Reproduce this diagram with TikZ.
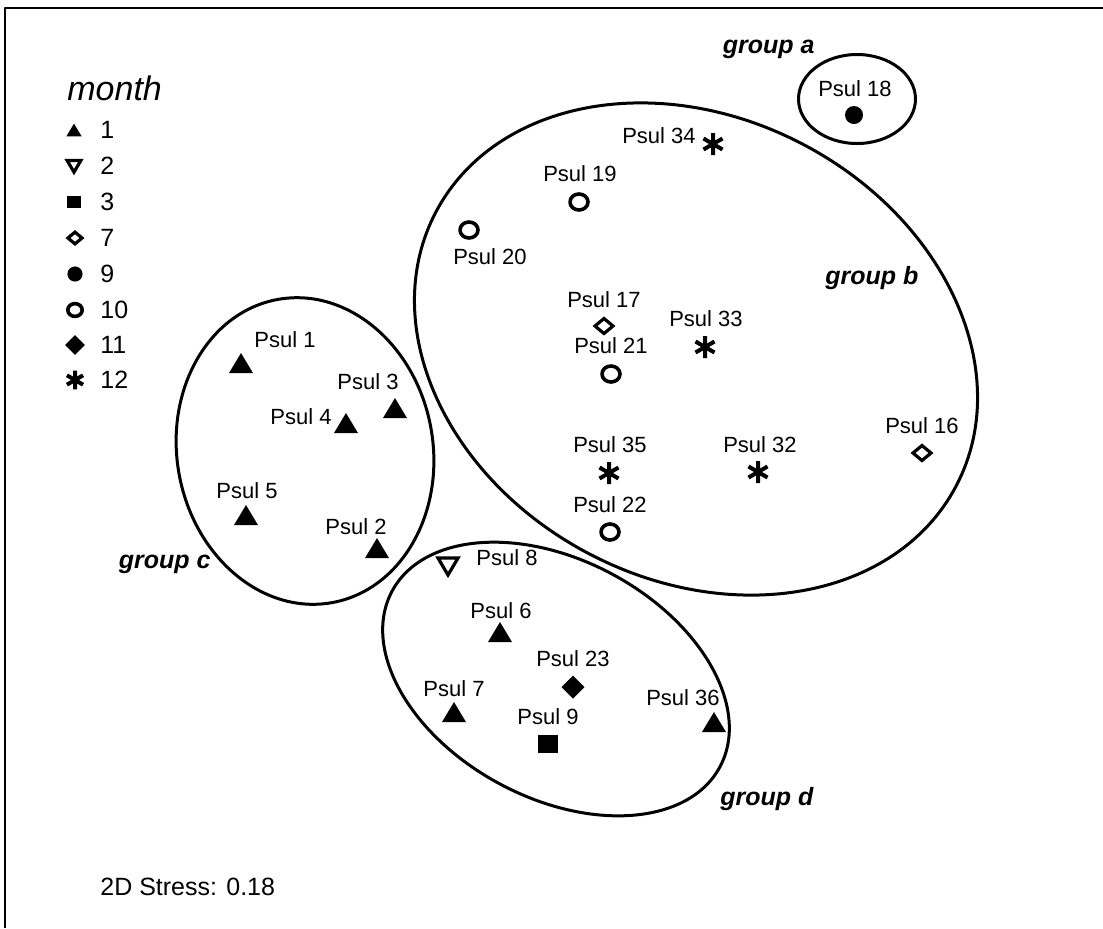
\documentclass[tikz,border=0pt]{standalone}
\usepackage{fontspec}
\setmainfont{Liberation Sans}
\begin{document}
\begin{tikzpicture}[x=0.5pt,y=-0.5pt,line join=round]

\def\gw{1.5pt} %group outline width
\def\ow{1.6pt} %open mark width

\tikzset{
  lab/.style={anchor=base,inner sep=0pt,font=\fontsize{11}{13}\selectfont},
  grp/.style={inner sep=0pt,font=\fontsize{12.5}{15}\selectfont\bfseries\itshape},
  num/.style={anchor=base west,inner sep=0pt,font=\fontsize{12.5}{15}\selectfont},
  hull/.style={line width=\gw},
  tri/.pic={\fill (-12,10) -- (12,10) -- (0,-10) -- cycle;},
  itri/.pic={\draw[line width=\ow,line join=miter] (-10,-8) -- (10,-8) -- (0,9) -- cycle;},
  sqr/.pic={\fill (-10,-9) rectangle (10,9);},
  odia/.pic={\draw[line width=\ow,line join=miter] (-9,0) -- (0,-7.5) -- (9,0) -- (0,7.5) -- cycle;},
  dot/.pic={\fill (0,0) circle (9);},
  ring/.pic={\draw[line width=1.8pt] (0,0) ellipse (9 and 8);},
  fdia/.pic={\fill (-11.5,0) -- (0,-11.5) -- (11.5,0) -- (0,11.5) -- cycle;},
  aster/.pic={\draw[line width=2pt] (0,-11) -- (0,11) (-9.5,-5.5) -- (9.5,5.5) (-9.5,5.5) -- (9.5,-5.5);}
}

\useasboundingbox (0,0) rectangle (1103,928);

%frame
\draw[line width=1pt] (5,928) -- (5,8) -- (1103,8);

%legend
\node[anchor=base west,inner sep=0pt,font=\fontsize{17}{20}\selectfont\itshape] (month) at (67,100) {month};
\path (74,130) pic[scale=.64]{tri};   \node[num] (m1) at (100,138) {1};
\path (74,166) pic[scale=.68]{itri};  \node[num] (m2) at (100,174) {2};
\path (74,202) pic[scale=.66]{sqr};   \node[num] (m3) at (100,210) {3};
\path (75,238) pic[scale=.78]{odia};  \node[num] (m7) at (100,246) {7};
\path (75,274) pic[scale=.84]{dot};   \node[num] (m9) at (100,282) {9};
\path (75,310) pic[scale=.8]{ring};   \node[num] (m10) at (100,318) {10};
\path (75,345) pic[scale=.85]{fdia};  \node[num] (m11) at (100,353) {11};
\path (75,380) pic[scale=.85]{aster}; \node[num] (m12) at (100,388) {12};

%group a
\draw[hull] (857,99) ellipse (58.5 and 44.5);
\node[grp,anchor=base east] (ga) at (815,53) {group a};
\path (854,115) pic{dot}; \node[lab] (p18) at (855,96) {Psul 18};

%group b
\draw[hull,rotate around={-27.8:(696,349)}] (696,349) ellipse (294 and 231);
\node[grp,anchor=base west] (gb) at (825,284) {group b};
\path (713,144) pic{aster}; \node[lab] (p34) at (659,143) {Psul 34};
\path (579,202) pic{ring};  \node[lab] (p19) at (580,181) {Psul 19};
\path (469,230) pic{ring};  \node[lab] (p20) at (490,264) {Psul 20};
\path (604,326) pic{odia};  \node[lab] (p17) at (604,307) {Psul 17};
\path (611,374) pic{ring};  \node[lab] (p21) at (611,353) {Psul 21};
\path (705,347) pic{aster}; \node[lab] (p33) at (706,326) {Psul 33};
\path (609,473) pic{aster}; \node[lab] (p35) at (610,452) {Psul 35};
\path (758,472) pic{aster}; \node[lab] (p32) at (760,452) {Psul 32};
\path (922,453) pic{odia};  \node[lab] (p16) at (922,433) {Psul 16};
\path (610,532) pic{ring};  \node[lab] (p22) at (610,512) {Psul 22};

%group c
\draw[hull,rotate around={10:(305,451)}] (305,451) ellipse (128 and 154);
\node[grp,anchor=base east] (gc) at (211,568) {group c};
\path (241,363) pic{tri}; \node[lab] (p1) at (285,347) {Psul 1};
\path (395,408) pic{tri}; \node[lab] (p3) at (368,389) {Psul 3};
\path (346,423) pic{tri}; \node[lab] (p4) at (301,424) {Psul 4};
\path (246,515) pic{tri}; \node[lab] (p5) at (247,498) {Psul 5};
\path (377,548) pic{tri}; \node[lab] (p2) at (356,534) {Psul 2};

%group d
\draw[hull,rotate around={-28.2:(556,679)}] (556,679) ellipse (186 and 119);
\node[grp,anchor=base west] (gd) at (720,805) {group d};
\path (448,566) pic{itri}; \node[lab] (p8) at (507,565) {Psul 8};
\path (500,632) pic{tri};  \node[lab] (p6) at (501,618) {Psul 6};
\path (573,687) pic{fdia}; \node[lab] (p23) at (573,666) {Psul 23};
\path (454,712) pic{tri};  \node[lab] (p7) at (454,696) {Psul 7};
\path (548,744) pic{sqr};  \node[lab] (p9) at (548,724) {Psul 9};
\path (714,722) pic{tri};  \node[lab] (p36) at (683,705) {Psul 36};

%stress
\node[anchor=base west,inner sep=0pt,font=\fontsize{12.5}{15}\selectfont] (stress) at (100,895) {2D Stress: 0.18};

\end{tikzpicture}
\end{document}
